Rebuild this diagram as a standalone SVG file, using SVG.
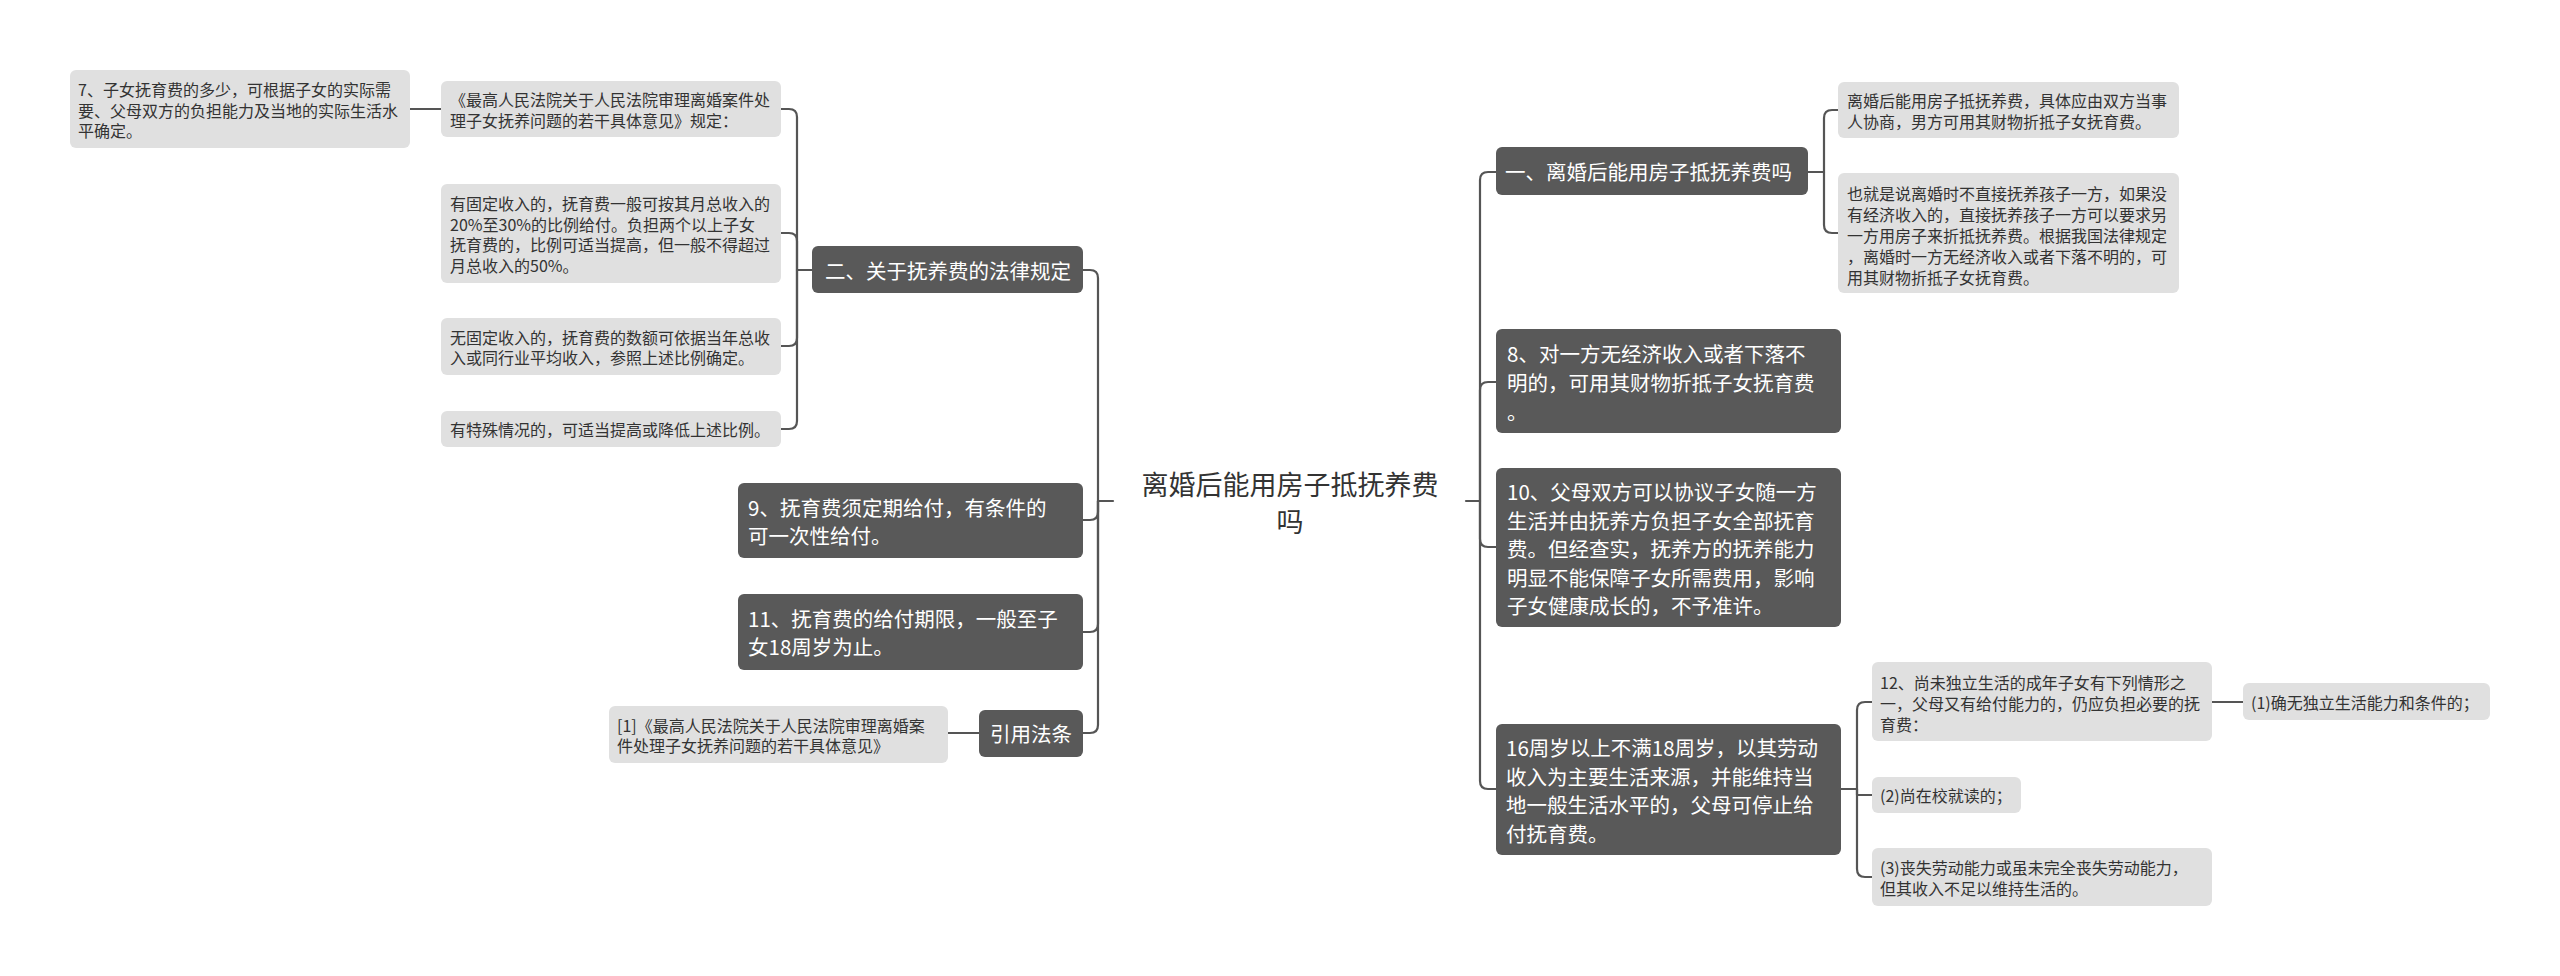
<svg xmlns="http://www.w3.org/2000/svg" width="2560" height="976" viewBox="0 0 2560 976">
<style>
.bg{fill:#ffffff}
.dk{fill:#595959}
.lt{fill:#e0e0e0}
.tl{font-family:"Noto Sans CJK SC","Noto Sans",sans-serif;font-size:16px;fill:#333333;dominant-baseline:central}
.td{font-family:"Noto Sans CJK SC","Noto Sans",sans-serif;font-size:20.5px;fill:#ffffff;dominant-baseline:central}
.tc{font-family:"Noto Sans CJK SC","Noto Sans",sans-serif;font-size:27px;fill:#333333;dominant-baseline:central;text-anchor:middle}
.ln{fill:none;stroke:#555555;stroke-width:2.2;stroke-linecap:round;stroke-linejoin:round}
</style>
<rect class="bg" x="0" y="0" width="2560" height="976"/>
<g id="connectors">
<path class="ln" d="M1113,501 H1098"/>
<path class="ln" d="M1098,501 V278 Q1098,270 1090,270 H1083"/>
<path class="ln" d="M1098,501 V512 Q1098,520 1090,520 H1083"/>
<path class="ln" d="M1098,501 V624 Q1098,632 1090,632 H1083"/>
<path class="ln" d="M1098,501 V725 Q1098,733 1090,733 H1083"/>
<path class="ln" d="M1466,501 H1480"/>
<path class="ln" d="M1480,501 V180 Q1480,172 1488,172 H1496"/>
<path class="ln" d="M1480,501 V390 Q1480,382 1488,382 H1496"/>
<path class="ln" d="M1480,501 V539 Q1480,547 1488,547 H1496"/>
<path class="ln" d="M1480,501 V781 Q1480,789 1488,789 H1496"/>
<path class="ln" d="M812,270 H797"/>
<path class="ln" d="M797,270 V117 Q797,109 789,109 H781"/>
<path class="ln" d="M797,270 V241 Q797,233 789,233 H781"/>
<path class="ln" d="M797,270 V338 Q797,346 789,346 H781"/>
<path class="ln" d="M797,270 V421 Q797,429 789,429 H781"/>
<path class="ln" d="M441,109 H410"/>
<path class="ln" d="M979,733 H948"/>
<path class="ln" d="M1808,172 H1824"/>
<path class="ln" d="M1824,172 V118 Q1824,110 1832,110 H1838"/>
<path class="ln" d="M1824,172 V225 Q1824,233 1832,233 H1838"/>
<path class="ln" d="M1841,789 H1857"/>
<path class="ln" d="M1857,789 V710 Q1857,702 1865,702 H1872"/>
<path class="ln" d="M1857,789 V795 H1872"/>
<path class="ln" d="M1857,789 V869 Q1857,877 1865,877 H1872"/>
<path class="ln" d="M2212,702 H2243"/>
</g>
<g id="center">
<text class="tc" x="1290" y="483">离婚后能用房子抵抚养费</text>
<text class="tc" x="1290" y="520">吗</text>
</g>
<g id="n2">
<rect class="dk" x="812" y="246" width="271" height="47" rx="6"/>
<text class="td" x="825" y="270">二、关于抚养费的法律规定</text>
</g>
<g id="n2-law">
<rect class="lt" x="441" y="81" width="340" height="56" rx="6"/>
<text class="tl" x="450" y="99">《最高人民法院关于人民法院审理离婚案件处</text>
<text class="tl" x="450" y="120">理子女抚养问题的若干具体意见》规定：</text>
</g>
<g id="n7">
<rect class="lt" x="70" y="70" width="340" height="78" rx="6"/>
<text class="tl" x="78" y="89">7、子女抚育费的多少，可根据子女的实际需</text>
<text class="tl" x="78" y="109.5">要、父母双方的负担能力及当地的实际生活水</text>
<text class="tl" x="78" y="130">平确定。</text>
</g>
<g id="n2-fixed">
<rect class="lt" x="441" y="184" width="340" height="99" rx="6"/>
<text class="tl" x="450" y="203">有固定收入的，抚育费一般可按其月总收入的</text>
<text class="tl" x="450" y="223.5">20%至30%的比例给付。负担两个以上子女</text>
<text class="tl" x="450" y="244">抚育费的，比例可适当提高，但一般不得超过</text>
<text class="tl" x="450" y="264.5">月总收入的50%。</text>
</g>
<g id="n2-nofixed">
<rect class="lt" x="441" y="318" width="340" height="57" rx="6"/>
<text class="tl" x="450" y="336.5">无固定收入的，抚育费的数额可依据当年总收</text>
<text class="tl" x="450" y="357">入或同行业平均收入，参照上述比例确定。</text>
</g>
<g id="n2-special">
<rect class="lt" x="441" y="411" width="340" height="36" rx="6"/>
<text class="tl" x="450" y="429">有特殊情况的，可适当提高或降低上述比例。</text>
</g>
<g id="n9">
<rect class="dk" x="738" y="483" width="345" height="75" rx="6"/>
<text class="td" x="748" y="507">9、抚育费须定期给付，有条件的</text>
<text class="td" x="748" y="535">可一次性给付。</text>
</g>
<g id="n11">
<rect class="dk" x="738" y="594" width="345" height="76" rx="6"/>
<text class="td" x="748" y="618">11、抚育费的给付期限，一般至子</text>
<text class="td" x="748" y="646">女18周岁为止。</text>
</g>
<g id="n-cite">
<rect class="dk" x="979" y="710" width="104" height="47" rx="6"/>
<text class="td" x="990" y="733">引用法条</text>
</g>
<g id="n-ref">
<rect class="lt" x="609" y="706" width="339" height="57" rx="6"/>
<text class="tl" x="617" y="724.5">[1]《最高人民法院关于人民法院审理离婚案</text>
<text class="tl" x="617" y="745">件处理子女抚养问题的若干具体意见》</text>
</g>
<g id="nA">
<rect class="dk" x="1496" y="147" width="312" height="48" rx="6"/>
<text class="td" x="1505" y="171">一、离婚后能用房子抵抚养费吗</text>
</g>
<g id="nA1">
<rect class="lt" x="1838" y="82" width="341" height="56" rx="6"/>
<text class="tl" x="1847" y="100">离婚后能用房子抵抚养费，具体应由双方当事</text>
<text class="tl" x="1847" y="121">人协商，男方可用其财物折抵子女抚育费。</text>
</g>
<g id="nA2">
<rect class="lt" x="1838" y="173" width="341" height="120" rx="6"/>
<text class="tl" x="1847" y="193">也就是说离婚时不直接抚养孩子一方，如果没</text>
<text class="tl" x="1847" y="214">有经济收入的，直接抚养孩子一方可以要求另</text>
<text class="tl" x="1847" y="235">一方用房子来折抵抚养费。根据我国法律规定</text>
<text class="tl" x="1847" y="256">，离婚时一方无经济收入或者下落不明的，可</text>
<text class="tl" x="1847" y="277">用其财物折抵子女抚育费。</text>
</g>
<g id="n8">
<rect class="dk" x="1496" y="329" width="345" height="104" rx="6"/>
<text class="td" x="1507" y="353">8、对一方无经济收入或者下落不</text>
<text class="td" x="1507" y="382">明的，可用其财物折抵子女抚育费</text>
<text class="td" x="1507" y="411">。</text>
</g>
<g id="n10">
<rect class="dk" x="1496" y="468" width="345" height="159" rx="6"/>
<text class="td" x="1507" y="491">10、父母双方可以协议子女随一方</text>
<text class="td" x="1507" y="519.5">生活并由抚养方负担子女全部抚育</text>
<text class="td" x="1507" y="548">费。但经查实，抚养方的抚养能力</text>
<text class="td" x="1507" y="576.5">明显不能保障子女所需费用，影响</text>
<text class="td" x="1507" y="605">子女健康成长的，不予准许。</text>
</g>
<g id="n16">
<rect class="dk" x="1496" y="724" width="345" height="131" rx="6"/>
<text class="td" x="1506" y="747">16周岁以上不满18周岁，以其劳动</text>
<text class="td" x="1506" y="775.5">收入为主要生活来源，并能维持当</text>
<text class="td" x="1506" y="804">地一般生活水平的，父母可停止给</text>
<text class="td" x="1506" y="832.5">付抚育费。</text>
</g>
<g id="n12">
<rect class="lt" x="1872" y="662" width="340" height="79" rx="6"/>
<text class="tl" x="1880" y="682">12、尚未独立生活的成年子女有下列情形之</text>
<text class="tl" x="1880" y="703">一，父母又有给付能力的，仍应负担必要的抚</text>
<text class="tl" x="1880" y="724">育费：</text>
</g>
<g id="n12a">
<rect class="lt" x="2243" y="683" width="247" height="37" rx="6"/>
<text class="tl" x="2251" y="702">(1)确无独立生活能力和条件的；</text>
</g>
<g id="n12b">
<rect class="lt" x="1872" y="777" width="149" height="36" rx="6"/>
<text class="tl" x="1880" y="795">(2)尚在校就读的；</text>
</g>
<g id="n12c">
<rect class="lt" x="1872" y="848" width="340" height="58" rx="6"/>
<text class="tl" x="1880" y="867">(3)丧失劳动能力或虽未完全丧失劳动能力，</text>
<text class="tl" x="1880" y="888">但其收入不足以维持生活的。</text>
</g>
</svg>
